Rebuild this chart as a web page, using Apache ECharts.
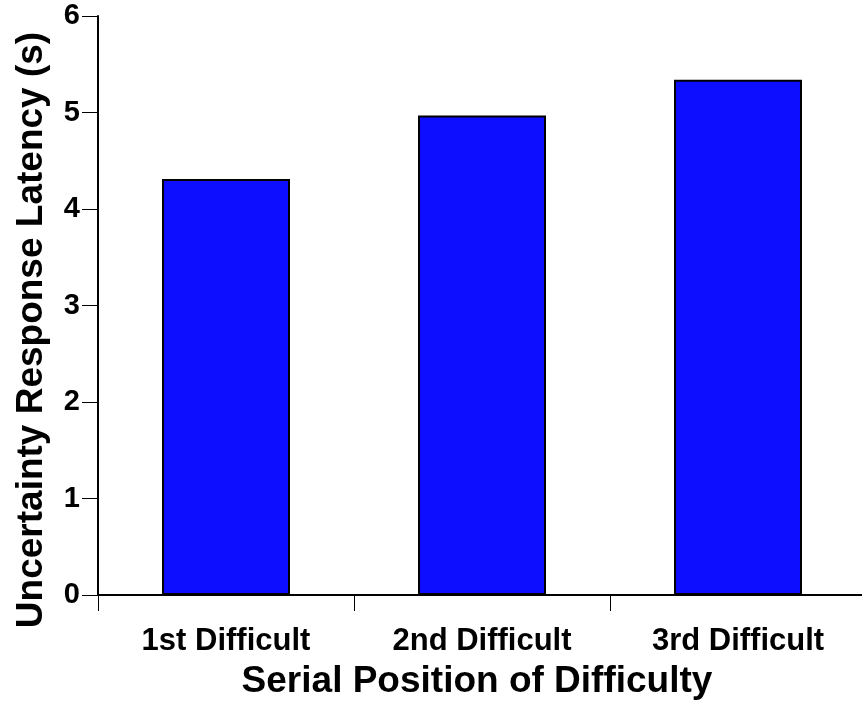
<!DOCTYPE html>
<html>
<head>
<meta charset="utf-8">
<script src="https://cdn.jsdelivr.net/npm/echarts@6/dist/echarts.min.js"></script>
<style>
html,body{margin:0;padding:0;background:#fff;overflow:hidden;}
#chart{width:866px;height:708px;}
</style>
</head>
<body>
<div id="chart"></div>
<script>
var categories = ['1st Difficult', '2nd Difficult', '3rd Difficult'];
var latency = [4.31, 4.97, 5.34];
var yTicks = [0, 1, 2, 3, 4, 5, 6];
var xTitle = 'Serial Position of Difficulty';
var yTitle = 'Uncertainty Response Latency (s)';

var font = '"Liberation Sans", Arial, sans-serif';
var chart = echarts.init(document.getElementById('chart'), null, {renderer: 'canvas'});
chart.setOption({
  animation: false,
  backgroundColor: '#ffffff',
  grid: {left: 98, right: 0, top: 16, bottom: 113, containLabel: false},
  xAxis: {
    type: 'category',
    data: categories,
    boundaryGap: true,
    axisLine: {show: true, lineStyle: {color: '#000', width: 2}},
    axisTick: {show: true, length: 16, lineStyle: {color: '#000', width: 1}},
    axisLabel: {color: '#000', fontFamily: font, fontWeight: 'bold', fontSize: 31, margin: 31}
  },
  yAxis: {
    type: 'value',
    min: yTicks[0],
    max: yTicks[yTicks.length - 1],
    interval: 1,
    splitLine: {show: false},
    axisLine: {show: true, lineStyle: {color: '#000', width: 2}},
    axisTick: {show: true, length: 16, lineStyle: {color: '#000', width: 1}},
    axisLabel: {color: '#000', fontFamily: font, fontWeight: 'bold', fontSize: 29, margin: 18}
  },
  graphic: [
    {type: 'text', x: 477, y: 682, style: {text: xTitle, fill: '#000', font: 'bold 37px ' + font, textAlign: 'center', textVerticalAlign: 'middle'}},
    {type: 'text', x: 32, y: 330, rotation: Math.PI / 2, style: {text: yTitle, fill: '#000', font: 'bold 37px ' + font, textAlign: 'center', textVerticalAlign: 'middle'}}
  ],
  series: [{
    type: 'bar',
    data: latency,
    barWidth: '50%',
    itemStyle: {color: '#0d0dff', borderColor: '#000', borderWidth: 2}
  }]
});
</script>
</body>
</html>
